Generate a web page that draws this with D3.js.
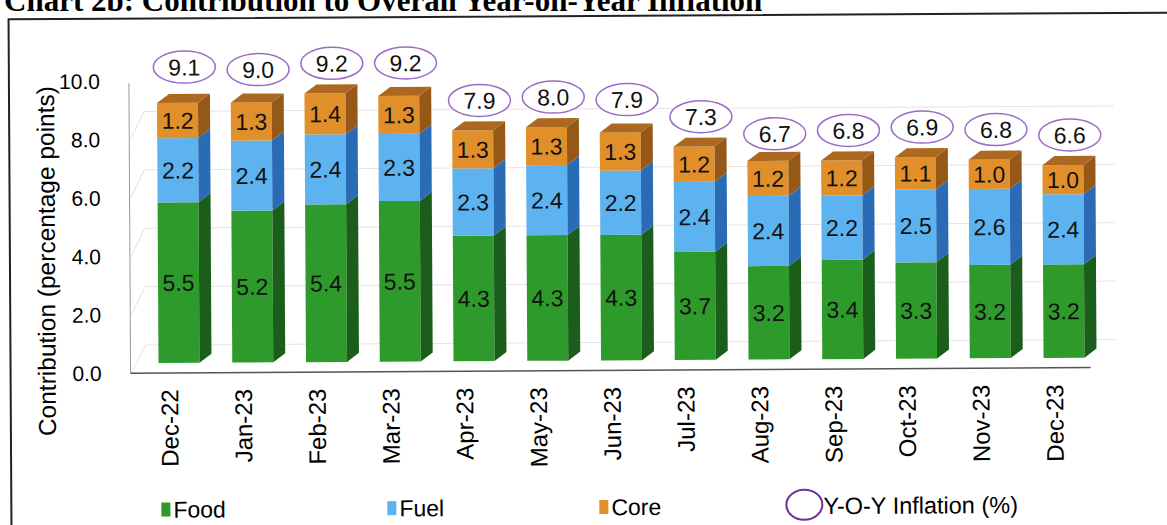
<!DOCTYPE html>
<html>
<head>
<meta charset="utf-8">
<script src="https://cdn.jsdelivr.net/npm/d3@7"></script>
<style>
  body { margin: 0; background: #fff; }
  text { font-family: Arial, "Liberation Sans", sans-serif; }
</style>
</head>
<body>
<div id="chart"></div>
<script>
// values
var months = ['Dec-22', 'Jan-23', 'Feb-23', 'Mar-23', 'Apr-23', 'May-23', 'Jun-23',
  'Jul-23', 'Aug-23', 'Sep-23', 'Oct-23', 'Nov-23', 'Dec-23'];
var food = [5.5, 5.2, 5.4, 5.5, 4.3, 4.3, 4.3, 3.7, 3.2, 3.4, 3.3, 3.2, 3.2];
var fuel = [2.2, 2.4, 2.4, 2.3, 2.3, 2.4, 2.2, 2.4, 2.4, 2.2, 2.5, 2.6, 2.4];
var core = [1.2, 1.3, 1.4, 1.3, 1.3, 1.3, 1.3, 1.2, 1.2, 1.2, 1.1, 1.0, 1.0];
var inflation = [9.1, 9.0, 9.2, 9.2, 7.9, 8.0, 7.9, 7.3, 6.7, 6.8, 6.9, 6.8, 6.6];
var yTicks = [0, 2, 4, 6, 8, 10];

var W = 1167, H = 525;
var depthX = 12, depthY = 9;   // 3d extrusion
var frontLift = 10;            // bars stand back from the front edge
var wallLift = 28;             // back wall gridlines

var series = [
  {key: 'food', name: 'Food', front: '#2f9a2c', side: '#1b5e1b', top: '#247a22'},
  {key: 'fuel', name: 'Fuel', front: '#5cb3ef', side: '#2a6bb6', top: '#4a93cf'},
  {key: 'core', name: 'Core', front: '#e18f2b', side: '#955816', top: '#ad6820'}
];

var rows = months.map(function(m, i) {
  return {month: m, food: food[i], fuel: fuel[i], core: core[i], infl: inflation[i]};
});

var stacked = d3.stack().keys(series.map(function(s) { return s.key; }))(rows);

var x = d3.scalePoint().domain(months).range([141.6, 1100.4]).padding(0.5);
var y = d3.scaleLinear().domain([0, 10]).range([370.5, 78.5]);
var barW = 41;

var svg = d3.select('#chart').append('svg')
  .attr('width', W)
  .attr('height', H);

svg.append('rect').attr('width', W).attr('height', H).attr('fill', '#fff');

// title, cut off at the top as in the scan
svg.append('text')
  .attr('x', 4)
  .attr('y', 11)
  .style('font-family', '"Liberation Serif", "Times New Roman", serif')
  .style('font-weight', 'bold')
  .style('font-size', '31px')
  .text('Chart 2b: Contribution to Overall Year-on-Year Inflation');

// the scan is slightly rotated
var g = svg.append('g').attr('transform', 'rotate(-0.33,590,270)');

// frame
g.append('path')
  .attr('d', 'M10,' + (H + 5) + 'V16H' + (W + 5))
  .attr('fill', 'none')
  .attr('stroke', '#222')
  .attr('stroke-width', 2);

// back wall gridlines
var grid = g.append('g');
yTicks.filter(function(t) { return t < 10; }).forEach(function(t) {
  grid.append('path')
    .attr('d', 'M131,' + y(t) + 'L145,' + (y(t) - wallLift) + 'H1115')
    .attr('fill', 'none')
    .attr('stroke', '#e4e4e4')
    .attr('stroke-width', 1);
});

// axes lines
g.append('line')
  .attr('x1', 130).attr('x2', 130)
  .attr('y1', y(10) + 2).attr('y2', y(0))
  .attr('stroke', '#9a9a9a');
g.append('line')
  .attr('x1', 130).attr('x2', 1090)
  .attr('y1', y(0)).attr('y2', y(0))
  .attr('stroke', '#555')
  .attr('stroke-width', 1.5);

// y tick labels
g.selectAll('.ytick')
  .data(yTicks)
  .enter().append('text')
  .attr('class', 'ytick')
  .attr('x', 101)
  .attr('y', function(d) { return y(d); })
  .attr('dy', '0.36em')
  .attr('text-anchor', 'end')
  .style('font-size', '21px')
  .text(function(d) { return d.toFixed(1); });

// y axis title
g.append('text')
  .attr('transform', 'translate(55,258) rotate(-90)')
  .attr('text-anchor', 'middle')
  .style('font-size', '24.5px')
  .text('Contribution (percentage points)');

// x labels
g.selectAll('.xlab')
  .data(months)
  .enter().append('text')
  .attr('class', 'xlab')
  .attr('transform', function(d) { return 'translate(' + (x(d) - 1) + ',387) rotate(-90)'; })
  .attr('text-anchor', 'end')
  .style('font-size', '24px')
  .text(function(d) { return d; });

// bars
var topIndex = stacked.length - 1;
stacked.forEach(function(layer, li) {
  var s = series[li];
  var lg = g.append('g').attr('class', 'layer-' + s.key);
  layer.forEach(function(d, i) {
    var m = months[i];
    var x0 = x(m) - barW / 2, x1 = x(m) + barW / 2;
    var yb = y(d[0]) - frontLift, yt = y(d[1]) - frontLift;
    lg.append('rect')
      .attr('x', x0).attr('y', yt)
      .attr('width', barW).attr('height', yb - yt)
      .attr('fill', s.front);
    lg.append('path')
      .attr('d', 'M' + x1 + ',' + yt + 'l' + depthX + ',' + (-depthY) +
        'V' + (yb - depthY) + 'L' + x1 + ',' + yb + 'Z')
      .attr('fill', s.side);
    if (li === topIndex) {
      lg.append('path')
        .attr('d', 'M' + x0 + ',' + yt + 'l' + depthX + ',' + (-depthY) +
          'H' + (x1 + depthX) + 'L' + x1 + ',' + yt + 'Z')
        .attr('fill', s.top);
    }
    lg.append('text')
      .attr('x', x(m))
      .attr('y', (yb + yt) / 2)
      .attr('dy', '0.36em')
      .attr('text-anchor', 'middle')
      .style('font-size', '23px')
      .attr('fill', '#111')
      .text(d.data[s.key].toFixed(1));
  });
});

// y-o-y inflation labels
var lab = g.selectAll('.infl')
  .data(rows)
  .enter().append('g')
  .attr('class', 'infl')
  .attr('transform', function(d) {
    return 'translate(' + (x(d.month) + 7) + ',' + (y(d.infl) - frontLift - 30) + ')';
  });
lab.append('ellipse')
  .attr('rx', 31).attr('ry', 16)
  .attr('fill', '#fff')
  .attr('stroke', '#9b6cc4')
  .attr('stroke-width', 1.5);
lab.append('text')
  .attr('dy', '0.36em')
  .attr('text-anchor', 'middle')
  .style('font-size', '23px')
  .attr('fill', '#111')
  .text(function(d) { return d.infl.toFixed(1); });

// legend
var legendX = [160, 386, 598];
series.forEach(function(s, i) {
  g.append('rect')
    .attr('x', legendX[i]).attr('y', 500)
    .attr('width', 9).attr('height', 14)
    .attr('fill', s.front);
  g.append('text')
    .attr('x', legendX[i] + 12).attr('y', 507)
    .attr('dy', '0.36em')
    .style('font-size', '23px')
    .text(s.name);
});
g.append('ellipse')
  .attr('cx', 803).attr('cy', 506)
  .attr('rx', 18).attr('ry', 15)
  .attr('fill', '#fff')
  .attr('stroke', '#6f2f96')
  .attr('stroke-width', 2);
g.append('text')
  .attr('x', 822).attr('y', 507)
  .attr('dy', '0.36em')
  .style('font-size', '23.5px')
  .text('Y-O-Y Inflation (%)');
</script>
</body>
</html>
